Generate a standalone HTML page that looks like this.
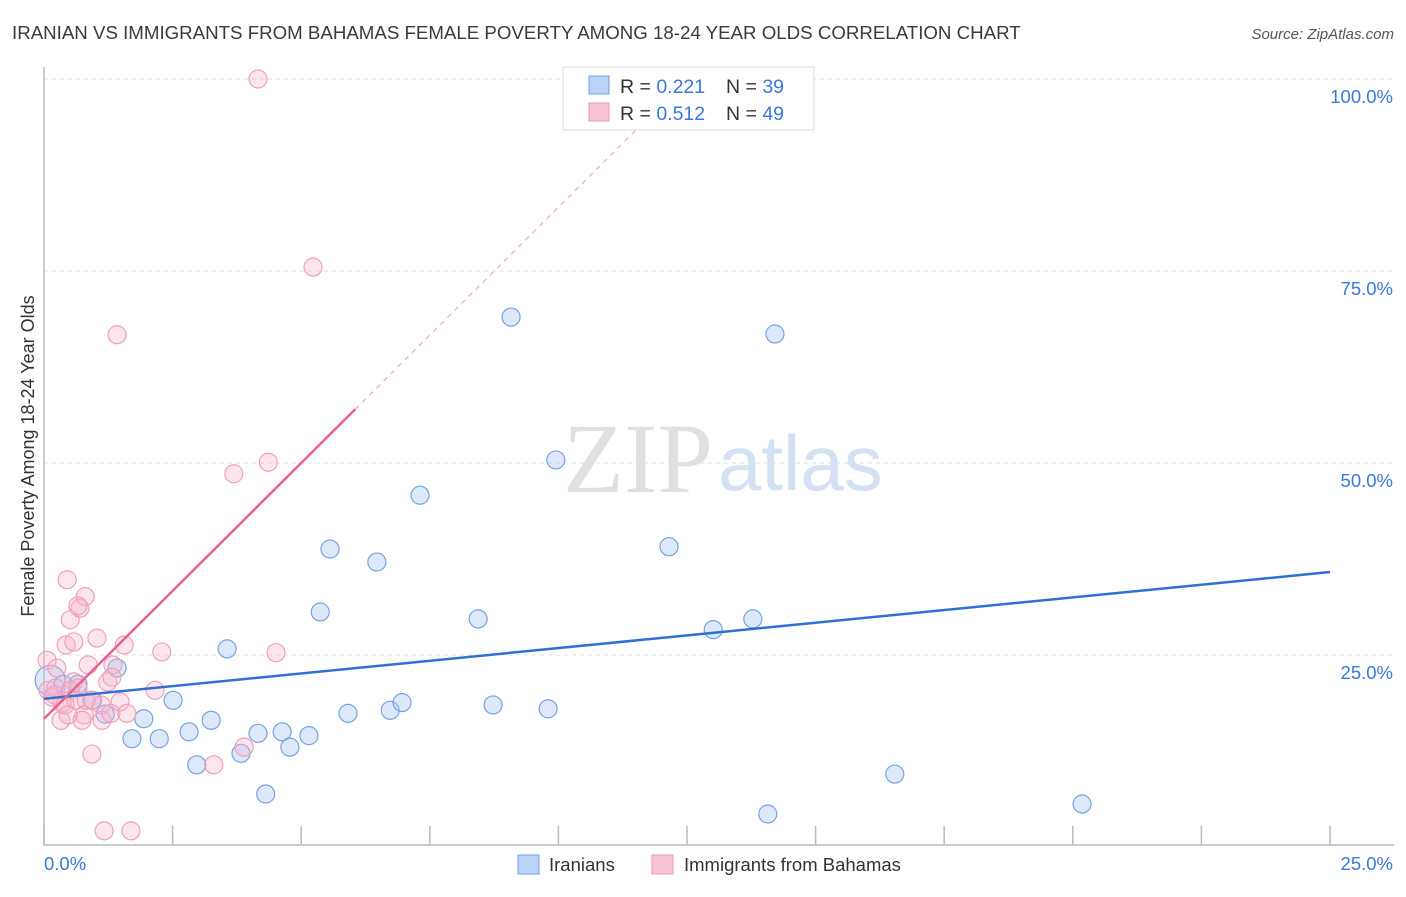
<!DOCTYPE html>
<html><head><meta charset="utf-8"><style>
body{margin:0;background:#fff;font-family:"Liberation Sans",sans-serif;}
svg text{font-family:"Liberation Sans",sans-serif;}
</style></head><body>
<svg id="chart" width="1406" height="892">
<text x="12" y="39" font-size="18.7" fill="#3a3a3a">IRANIAN VS IMMIGRANTS FROM BAHAMAS FEMALE POVERTY AMONG 18-24 YEAR OLDS CORRELATION CHART</text>
<text x="1394" y="39" font-size="15" fill="#555" text-anchor="end" font-style="italic">Source: ZipAtlas.com</text>
<g id="grid"></g>
<text x="713" y="492" font-size="100" fill="#e0e0e0" text-anchor="end" style="font-family:'Liberation Serif',serif">ZIP</text>
<text x="718" y="490" font-size="78" fill="#d3e1f3">atlas</text>
<g id="marks"></g>
<text transform="translate(34,456) rotate(-90)" font-size="18" fill="#333" text-anchor="middle">Female Poverty Among 18-24 Year Olds</text>
<g>
<rect x="563" y="67" width="251" height="63" fill="#fff" stroke="#ddd"/>
<rect x="589" y="76" width="20" height="18" fill="#b9d3f7" stroke="#6fa0e0"/>
<rect x="589" y="103" width="20" height="18" fill="#f9c4d4" stroke="#ef9ab5"/>
<text x="620" y="93" font-size="19.5" fill="#333">R = <tspan fill="#3b78d8">0.221</tspan><tspan x="726">N = </tspan><tspan fill="#3b78d8">39</tspan></text>
<text x="620" y="120" font-size="19.5" fill="#333">R = <tspan fill="#3b78d8">0.512</tspan><tspan x="726">N = </tspan><tspan fill="#3b78d8">49</tspan></text>
</g>
<g>
<rect x="518" y="855" width="21" height="19" fill="#b9d3f7" stroke="#6fa0e0"/>
<text x="549" y="871" font-size="18.5" fill="#333">Iranians</text>
<rect x="652" y="855" width="21" height="19" fill="#f9c4d4" stroke="#ef9ab5"/>
<text x="684" y="871" font-size="18.5" fill="#333">Immigrants from Bahamas</text>
</g>
</svg>
<script>
const xTicks=[0,2.5,5,7.5,10,12.5,15,17.5,20,22.5,25];
const yTicks=[25,50,75,100];
const yTickLabels=["25.0%","50.0%","75.0%","100.0%"];
const blueX=[0.12,0.37,0.66,1.42,0.93,1.19,1.94,1.71,2.24,2.51,2.82,3.25,2.97,3.56,3.83,4.16,4.31,4.63,4.78,5.15,5.37,5.56,5.91,6.47,6.73,6.96,7.31,8.44,8.73,9.08,9.80,9.95,12.15,13.01,13.78,14.07,14.21,16.54,20.18];
const blueY=[21.7,21.2,21.2,23.3,19.1,17.3,16.7,14.1,14.1,19.1,15.0,16.5,10.7,25.8,12.2,14.8,6.9,15.0,13.0,14.5,30.6,38.8,17.4,37.1,17.8,18.8,45.8,29.7,18.5,69.0,18.0,50.4,39.1,28.3,29.7,4.3,66.8,9.5,5.6];
const pinkX=[0.06,0.08,0.16,0.23,0.33,0.35,0.45,0.43,0.51,0.58,0.70,0.80,0.66,0.58,0.66,0.86,0.78,1.03,0.95,1.11,0.93,1.17,1.13,1.30,1.34,1.42,1.48,1.56,1.61,1.69,2.16,2.29,3.30,3.69,3.89,4.16,4.36,4.51,5.23,0.21,0.51,0.62,0.41,1.24,1.32,0.25,0.74,0.47,0.82];
const pinkY=[24.3,20.4,19.5,20.7,16.5,18.7,34.8,26.3,29.6,26.7,31.1,32.6,31.4,21.5,20.7,23.7,17.2,27.2,19.1,18.5,12.1,2.1,16.5,17.4,23.7,66.7,18.9,26.3,17.4,2.1,20.4,25.4,10.7,48.6,13.0,100,50.1,25.3,75.5,19.8,20.4,19.1,18.5,21.5,22.1,23.3,16.5,17.2,19.1];
const blueTrend=[19.3,35.8];
const pinkTrend=[16.7,6.66];
const X=v=>44+v/25*1286, Y=v=>847-v/100*768;
const NS="http://www.w3.org/2000/svg";
const grid=document.getElementById('grid'), marks=document.getElementById('marks');
function mk(tag,attrs,parent){const e=document.createElementNS(NS,tag);for(const k in attrs)e.setAttribute(k,attrs[k]);parent.appendChild(e);return e;}
yTicks.forEach((t,i)=>{
 const l=mk('line',{x1:44,x2:1394,y1:Y(t),y2:Y(t),stroke:'#ddd','stroke-dasharray':'4,4'},grid);
 
 
 const tx=mk('text',{x:1393,y:Y(t)+24,'font-size':18.5,fill:'#3b78d8','text-anchor':'end'},grid);
 tx.textContent=yTickLabels[i];
 
 
});
const ax=mk('path',{d:'M44,67 V845 H1394',fill:'none',stroke:'#bbb','stroke-width':1.5},grid);


xTicks.forEach(t=>{
 const l=mk('line',{x1:X(t),x2:X(t),y1:826,y2:845,stroke:'#bbb','stroke-width':1.5},grid);
 
 
});
const xl0=mk('text',{x:44,y:870,'font-size':18.5,fill:'#3b78d8'},grid);xl0.textContent='0.0%';


const xl1=mk('text',{x:1393,y:870,'font-size':18.5,fill:'#3b78d8','text-anchor':'end'},grid);xl1.textContent='25.0%';


blueX.forEach((x,i)=>{
 const c=mk('circle',{cx:X(x),cy:Y(blueY[i]),r:i==0?15:9,fill:'rgba(170,200,242,0.4)',stroke:'#74a3e2','stroke-width':1.2},marks);
 
 
});
pinkX.forEach((x,i)=>{
 const c=mk('circle',{cx:X(x),cy:Y(pinkY[i]),r:9,fill:'rgba(247,180,202,0.35)',stroke:'#f0a0ba','stroke-width':1.2},marks);
 
 
});
const bt=mk('line',{x1:X(0),y1:Y(blueTrend[0]),x2:X(25),y2:Y(blueTrend[1]),stroke:'#2f6fd6','stroke-width':2.5},marks);


const pxEnd=6.05, pxDash=(100-pinkTrend[0])/pinkTrend[1];
const pt=mk('line',{x1:X(0),y1:Y(pinkTrend[0]),x2:X(pxEnd),y2:Y(pinkTrend[0]+pinkTrend[1]*pxEnd),stroke:'#e8628f','stroke-width':2.5},marks);


const pd=mk('line',{x1:X(pxEnd),y1:Y(pinkTrend[0]+pinkTrend[1]*pxEnd),x2:X(pxDash),y2:Y(100),stroke:'#f0a8bf','stroke-width':1.2,'stroke-dasharray':'5,5'},marks);


</script>
</body></html>
